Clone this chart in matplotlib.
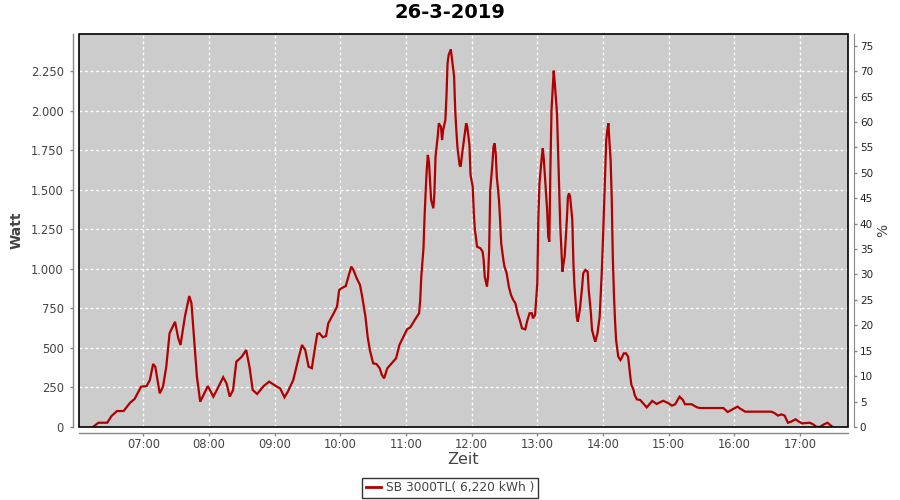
import matplotlib
matplotlib.use("Agg")
import matplotlib.pyplot as plt
from matplotlib.patches import Rectangle
from matplotlib.lines import Line2D
from matplotlib.ticker import FuncFormatter

title = "26-3-2019"
series_name = "SB 3000TL( 6,220 kWh )"

times = [
    "06:14", "06:19", "06:27", "06:31", "06:36", "06:42", "06:48", "06:52", "06:58", "07:03",
    "07:06", "07:09", "07:11", "07:15", "07:18", "07:21", "07:24", "07:29", "07:32", "07:34",
    "07:38", "07:42", "07:44", "07:47", "07:49", "07:52", "07:55", "07:59", "08:04", "08:08",
    "08:13", "08:16", "08:19", "08:22", "08:25", "08:30", "08:34", "08:37", "08:40", "08:44",
    "08:50", "08:55", "09:02", "09:05", "09:09", "09:12", "09:17", "09:22", "09:25", "09:28",
    "09:31", "09:34", "09:37", "09:39", "09:41", "09:44", "09:47", "09:49", "09:54", "09:57",
    "09:59", "10:01", "10:05", "10:07", "10:10", "10:12", "10:15", "10:18", "10:20", "10:23",
    "10:25", "10:27", "10:30", "10:33", "10:36", "10:38", "10:40", "10:43", "10:47", "10:51",
    "10:54", "10:58", "11:01", "11:04", "11:08", "11:12", "11:13", "11:14", "11:16", "11:17",
    "11:18", "11:19", "11:20", "11:21", "11:22", "11:23", "11:25", "11:26", "11:27", "11:29",
    "11:30", "11:32", "11:33", "11:34", "11:36", "11:37", "11:38", "11:39", "11:41", "11:42",
    "11:44", "11:45", "11:46", "11:47", "11:49", "11:50", "11:51", "11:53", "11:55", "11:56",
    "11:58", "11:59", "12:01", "12:02", "12:03", "12:05", "12:08", "12:10", "12:11", "12:12",
    "12:14", "12:15", "12:16", "12:17", "12:19", "12:20", "12:21", "12:22", "12:23", "12:25",
    "12:26", "12:27", "12:29", "12:30", "12:32", "12:34", "12:36", "12:38", "12:40", "12:42",
    "12:44", "12:46", "12:49", "12:51", "12:53", "12:55", "12:56", "12:58", "13:00", "13:01",
    "13:02", "13:04", "13:05", "13:06", "13:07", "13:09", "13:10", "13:11", "13:12", "13:13",
    "13:14", "13:15", "13:16", "13:18", "13:19", "13:20", "13:21", "13:22", "13:23", "13:24",
    "13:25", "13:27", "13:28", "13:29", "13:30", "13:32", "13:33", "13:34", "13:36", "13:37",
    "13:39", "13:41", "13:42", "13:44", "13:46", "13:47", "13:49", "13:50", "13:52", "13:53",
    "13:55", "13:57", "13:58", "13:59", "14:00", "14:01", "14:02", "14:03", "14:04", "14:05",
    "14:06", "14:07", "14:08", "14:09", "14:10", "14:11", "14:12", "14:14", "14:16", "14:17",
    "14:19", "14:21", "14:23", "14:24", "14:25", "14:26", "14:28", "14:29", "14:31", "14:34",
    "14:40", "14:45", "14:49", "14:55", "15:00", "15:03", "15:06", "15:10", "15:13", "15:15",
    "15:21", "15:26", "15:29", "15:50", "15:54", "15:59", "16:03", "16:05", "16:10", "16:34",
    "16:37", "16:40", "16:43", "16:46", "16:49", "16:52", "16:56", "16:59", "17:02", "17:09",
    "17:12", "17:15", "17:18", "17:21", "17:25", "17:29", "17:30",
]

watts = [
    0, 27, 27, 70, 101, 101, 154, 177, 255, 259,
    297, 399, 380, 213, 255, 382, 593, 666, 561, 519,
    698, 829, 783, 508, 318, 160, 202, 259, 192, 245,
    315, 277, 192, 234, 413, 445, 487, 382, 234, 209,
    259, 287, 255, 245, 188, 223, 297, 440, 519, 487,
    382, 372, 508, 589, 593, 568, 576, 656, 720, 761,
    867, 878, 892, 941, 1015, 994, 941, 899, 825, 698,
    571, 487, 403, 399, 372, 329, 308, 372, 403, 435,
    519, 576, 618, 631, 677, 720, 800, 951, 1131, 1331,
    1489, 1627, 1722, 1679, 1563, 1437, 1384, 1479, 1711, 1837,
    1922, 1900, 1816, 1880, 1943, 2090, 2301, 2354, 2390, 2333,
    2217, 2006, 1880, 1774, 1658, 1648, 1711, 1816, 1922, 1900,
    1785, 1595, 1521, 1352, 1247, 1141, 1131, 1110, 1057, 951,
    888, 951, 1120, 1500, 1669, 1774, 1795, 1732, 1584, 1437,
    1310, 1163, 1057, 1015, 973, 888, 835, 804, 783, 720,
    677, 625, 618, 677, 720, 720, 688, 709, 909, 1331,
    1542, 1700, 1764, 1690, 1584, 1373, 1204, 1173, 1648, 2006,
    2133, 2255, 2175, 1985, 1753, 1500, 1268, 1120, 983, 1036,
    1078, 1310, 1458, 1479, 1458, 1310, 1036, 888, 698, 666,
    750, 890, 973, 994, 983, 867, 720, 614, 561, 540,
    593, 698, 846, 994, 1184, 1394, 1605, 1816, 1880, 1922,
    1795, 1690, 1450, 1078, 846, 677, 551, 445, 424, 435,
    466, 466, 445, 382, 318, 266, 234, 202, 175, 171,
    124, 165, 146, 166, 150, 135, 144, 192, 171, 144,
    144, 124, 120, 120, 95, 114, 129, 118, 97, 97,
    87, 72, 80, 72, 27, 34, 49, 34, 23, 27,
    17, 2, 0, 13, 27, 6, 0,
]

x_ticks = ["07:00", "08:00", "09:00", "10:00", "11:00", "12:00",
           "13:00", "14:00", "15:00", "16:00", "17:00"]
y_ticks = [0, 250, 500, 750, 1000, 1250, 1500, 1750, 2000, 2250]
pct_ticks = [0, 5, 10, 15, 20, 25, 30, 35, 40, 45, 50, 55, 60, 65, 70, 75]


def to_hours(s):
    h, m = s.split(":")
    return int(h) + int(m) / 60.0


xs = [to_hours(t) for t in times]
xt = [to_hours(t) for t in x_ticks]

plt.rcParams["font.family"] = ["DejaVu Sans"]
fig = plt.figure(figsize=(9, 5), dpi=100)
fig.patch.set_facecolor("white")
ax = fig.add_axes([79 / 900, 73 / 500, 769 / 900, 393 / 500])
ax.set_facecolor("#cccccc")

ax.plot(xs, watts, color="#b00000", lw=1.6, solid_joinstyle="miter", zorder=3)

ax.set_xlim(6 + 1.25 / 60, 6 + 703.9 / 60)
ax.set_ylim(0, 2487)

ax.set_xticks(xt)
ax.set_xticklabels(x_ticks)
ax.set_yticks(y_ticks)
ax.yaxis.set_major_formatter(FuncFormatter(lambda v, p: f"{int(v):,}".replace(",", ".")))

ax.grid(True, color="white", linestyle=(0, (2, 2)), lw=1.0)
ax.set_axisbelow(True)

tick_col = "#444444"
spine_col = "#888888"
for side in ["top", "right"]:
    ax.spines[side].set_visible(False)
for side in ["left", "bottom"]:
    ax.spines[side].set_position(("outward", 4))
    ax.spines[side].set_color(spine_col)
    ax.spines[side].set_linewidth(1.0)
ax.tick_params(axis="both", colors=spine_col, labelcolor=tick_col, labelsize=8.3,
               length=2.5, width=1, direction="out")
ax.tick_params(axis="x", pad=1.5)
ax.tick_params(axis="y", pad=4.5)

# plot area frame
ax.add_patch(Rectangle((0, 0), 1, 1, transform=ax.transAxes, fill=False,
                       edgecolor="black", lw=1.2, zorder=5, clip_on=False))

ax2 = ax.twinx()
ax2.set_ylim(0, 77.3)
ax2.set_yticks(pct_ticks)
for side in ["top", "left", "bottom"]:
    ax2.spines[side].set_visible(False)
ax2.spines["right"].set_position(("outward", 4))
ax2.spines["right"].set_color(spine_col)
ax2.tick_params(axis="y", colors=spine_col, labelcolor="#222222", labelsize=7.5,
                length=2.5, width=1, direction="out", pad=2)
ax2.set_ylabel("%", fontsize=10, color=tick_col, labelpad=2)

ax.set_ylabel("Watt", fontsize=10, fontweight="bold", color=tick_col, labelpad=5)
ax.set_xlabel("Zeit", fontsize=11.5, color=tick_col, labelpad=1)
fig.text(0.5, 1 - 12.5 / 500, title, ha="center", va="center",
         fontsize=14, fontweight="bold", color="black")

handle = Line2D([], [], color="#b00000", lw=2)
leg = fig.legend([handle], [series_name], loc="center", bbox_to_anchor=(0.5, 1 - 488 / 500),
                 frameon=True, fancybox=False, edgecolor="black", fontsize=8.8,
                 handlelength=1.2, handletextpad=0.4, borderpad=0.3, labelcolor=tick_col)
leg.get_frame().set_linewidth(1.0)

fig.savefig("out.png", dpi=100)
